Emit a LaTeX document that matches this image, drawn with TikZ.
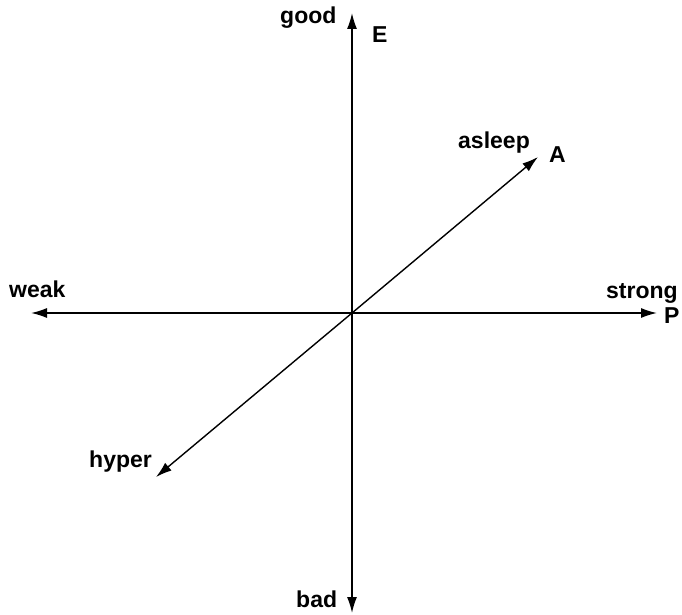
\documentclass[tikz,border=0pt]{standalone}
\usepackage{fontspec}
\setmainfont{Liberation Sans}
\usetikzlibrary{arrows.meta}
\tikzset{
  axis line/.style={-{Latex[length=16pt,width=10pt]}, line width=1.4pt, black},
  axis label/.style={font=\fontsize{23}{27}\selectfont\bfseries, inner sep=0pt, anchor=base west}
}
\begin{document}
\begin{tikzpicture}[x=1pt,y=-1pt]
\useasboundingbox (0,0) rectangle (682,615);
% origin and axis ends
\coordinate (o) at (352,313);
\coordinate (eTop) at (352,13);
\coordinate (eBot) at (352,613);
\coordinate (pLeft) at (31,313);
\coordinate (pRight) at (657,313);
\coordinate (aTop) at (538,157);
\coordinate (aBot) at (156,477);
\draw[axis line] (o)--(eTop);
\draw[axis line] (o)--(eBot);
\draw[axis line] (o)--(pLeft);
\draw[axis line] (o)--(pRight);
\draw[axis line] (o)--(aTop);
\draw[axis line] (o)--(aBot);
% labels
\node[axis label] (good) at (280,24) {good};
\node[axis label] (e) at (372,43) {E};
\node[axis label] (asleep) at (458,148) {asleep};
\node[axis label] (a) at (549,162) {A};
\node[axis label] (weak) at (9,297) {weak};
\node[axis label] (strong) at (606,298) {strong};
\node[axis label] (p) at (664,323) {P};
\node[axis label] (hyper) at (89,467) {hyper};
\node[axis label] (bad) at (296,607) {bad};
\end{tikzpicture}
\end{document}
